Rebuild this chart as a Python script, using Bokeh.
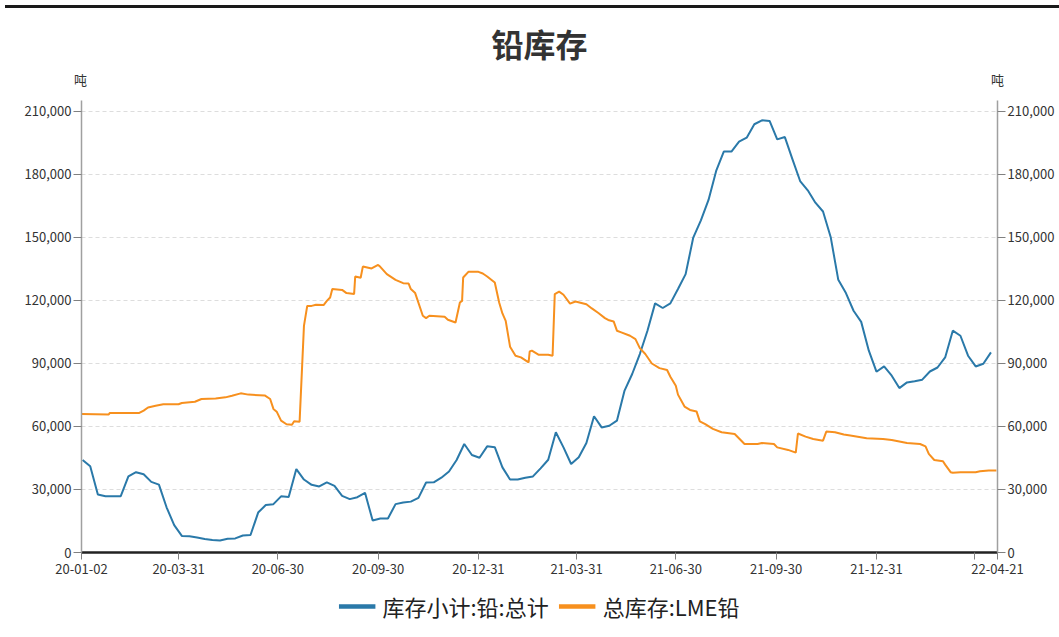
import pandas as pd
from bokeh.plotting import figure
from bokeh.models import (Range1d, LinearAxis, FixedTicker, NumeralTickFormatter, Grid,
                          Legend, LegendItem, Label, Div, ColumnDataSource)
from bokeh.layouts import column
from bokeh.embed import file_html
from bokeh.resources import INLINE

FONT = "Noto Sans CJK SC"

title_text = "铅库存"
unit_text = "吨"
series_names = ["库存小计:铅:总计", "总库存:LME铅"]
series_colors = ["#2a79a9", "#f7901e"]

x_start = "2020-01-02"
x_end = "2022-04-21"
x_tick_dates = ["2020-01-02", "2020-03-31", "2020-06-30", "2020-09-30", "2020-12-31",
                "2021-03-31", "2021-06-30", "2021-09-30", "2021-12-31", "2022-03-31", "2022-04-21"]
x_tick_labels = ["20-01-02", "20-03-31", "20-06-30", "20-09-30", "20-12-31",
                 "21-03-31", "21-06-30", "21-09-30", "21-12-31", "", "22-04-21"]
y_ticks = [0, 30000, 60000, 90000, 120000, 150000, 180000, 210000]

# weekly series (Fridays)
blue_start = "2020-01-03"
blue_values = [
    44000, 41000, 27600, 26800, 26800, 26800, 36200, 38200, 37200, 33600,
    32300, 21500, 13000, 7900, 7700, 7100, 6400, 5900, 5700, 6500,
    6700, 8100, 8300, 19000, 22600, 23000, 26700, 26400, 39700, 34700,
    32200, 31400, 33400, 31700, 26900, 25400, 26300, 28400, 15200, 16200,
    16200, 23000, 23800, 24200, 26000, 33300, 33400, 35600, 38500, 44000,
    51600, 46400, 45100, 50500, 50100, 40500, 34700, 34700, 35600, 36200,
    40000, 44100, 57200, 50000, 42100, 45300, 52100, 64800, 59500, 60300,
    62700, 77000, 84900, 94400, 105500, 118500, 116300, 118500, 125300, 132400,
    149800, 158000, 167700, 181500, 190700, 190700, 195400, 197300, 203700, 205600,
    205300, 196500, 197600, 187000, 176700, 172300, 166400, 162200, 150100, 129700,
    123400, 115000, 109700, 96000, 86000, 88500, 84100, 78200, 80900, 81500,
    82200, 86100, 88000, 92800, 105500, 103100, 93600, 88500, 89800, 95200,
]
blue_dates = pd.date_range(blue_start, periods=len(blue_values), freq="7D")

orange_dates = [
    "2020-01-02", "2020-01-27", "2020-01-28", "2020-02-24", "2020-02-28", "2020-03-03",
    "2020-03-10", "2020-03-17", "2020-03-31", "2020-04-03", "2020-04-15", "2020-04-21",
    "2020-05-04", "2020-05-13", "2020-05-19", "2020-05-27", "2020-06-03", "2020-06-18",
    "2020-06-23", "2020-06-26", "2020-06-29", "2020-07-03", "2020-07-08", "2020-07-13",
    "2020-07-15", "2020-07-20", "2020-07-24", "2020-07-27", "2020-07-31", "2020-08-04",
    "2020-08-11", "2020-08-14", "2020-08-17", "2020-08-19", "2020-08-28", "2020-09-01",
    "2020-09-08", "2020-09-09", "2020-09-14", "2020-09-16", "2020-09-24", "2020-09-30",
    "2020-10-02", "2020-10-08", "2020-10-16", "2020-10-23", "2020-10-28", "2020-10-30",
    "2020-11-03", "2020-11-10", "2020-11-13", "2020-11-16", "2020-11-30", "2020-12-03",
    "2020-12-10", "2020-12-14", "2020-12-16", "2020-12-17", "2020-12-22", "2020-12-31",
    "2021-01-04", "2021-01-08", "2021-01-15", "2021-01-19", "2021-01-22", "2021-01-25",
    "2021-01-29", "2021-02-03", "2021-02-08", "2021-02-15", "2021-02-16", "2021-02-18",
    "2021-02-24", "2021-03-05", "2021-03-09", "2021-03-11", "2021-03-15", "2021-03-19",
    "2021-03-25", "2021-03-30", "2021-04-09", "2021-04-14", "2021-04-20", "2021-04-26",
    "2021-04-29", "2021-05-04", "2021-05-07", "2021-05-11", "2021-05-19", "2021-05-24",
    "2021-05-28", "2021-06-02", "2021-06-08", "2021-06-15", "2021-06-22", "2021-06-25",
    "2021-06-30", "2021-07-02", "2021-07-08", "2021-07-13", "2021-07-19", "2021-07-22",
    "2021-07-27", "2021-08-03", "2021-08-11", "2021-08-23", "2021-09-01", "2021-09-13",
    "2021-09-17", "2021-09-28", "2021-10-01", "2021-10-11", "2021-10-18", "2021-10-20",
    "2021-10-27", "2021-11-03", "2021-11-12", "2021-11-15", "2021-11-23", "2021-12-01",
    "2021-12-07", "2021-12-22", "2022-01-06", "2022-01-14", "2022-01-28", "2022-02-09",
    "2022-02-14", "2022-02-17", "2022-02-22", "2022-03-02", "2022-03-04", "2022-03-09",
    "2022-03-11", "2022-03-18", "2022-04-01", "2022-04-05", "2022-04-13", "2022-04-20",
]
orange_values = [
    65900, 65700, 66400, 66400, 67500, 69000,
    69800, 70500, 70500, 71100, 71700, 73000,
    73300, 73800, 74600, 75700, 75100, 74700,
    73000, 68300, 67000, 62700, 61000, 60800,
    62400, 62200, 107800, 117300, 117300, 117800,
    117700, 119700, 121300, 125300, 124900, 123400,
    123000, 131300, 130700, 136000, 135100, 136800,
    135900, 132400, 129700, 128100, 127900, 125300,
    123400, 112600, 111500, 112600, 112100, 110700,
    109400, 118900, 119700, 130800, 133600, 133500,
    132700, 131300, 128400, 118900, 113700, 110200,
    97900, 93600, 92800, 90400, 95600, 96000,
    94100, 94100, 93600, 122900, 124100, 122600,
    118400, 119400, 118100, 116100, 113900, 111500,
    110600, 109900, 105500, 104700, 103100, 101500,
    97200, 94400, 89900, 87700, 86800, 83600,
    79300, 75100, 69400, 67800, 67100, 62400,
    61100, 58800, 57200, 56400, 51600, 51600,
    52100, 51600, 50000, 48800, 47500, 56600,
    55100, 54000, 53200, 57500, 57200, 56100,
    55600, 54300, 54000, 53500, 52100, 51600,
    50500, 46900, 44000, 43400, 41800, 38200,
    37900, 38200, 38200, 38600, 39000, 39000,
]


def ms(d):
    return int(pd.Timestamp(d).value // 10**6)


blue_src = ColumnDataSource(dict(x=blue_dates, y=blue_values))
orange_src = ColumnDataSource(dict(x=pd.to_datetime(orange_dates), y=orange_values))

X0, X1 = ms(x_start), ms(x_end)
W = 1059
LEFT, RIGHT = 81, 62


def blank(height, x0, x1, align=True):
    f = figure(width=W, height=height, output_backend="svg", toolbar_location=None,
               x_axis_type=None, y_axis_type=None,
               x_range=Range1d(x0, x1), y_range=Range1d(0, height),
               min_border=0, outline_line_color=None, background_fill_color="white",
               border_fill_color="white")
    f.grid.visible = False
    if not align:
        f.frame_align = False
    return f


# header strip: title and unit labels; its frame spans the whole width (page pixels)
HH = 86
head = blank(HH, 0, W, align=False)
frame_mid = LEFT + (W - LEFT - RIGHT) / 2
head.add_layout(Label(x=frame_mid, y=HH - 29, text=title_text, text_align="center",
                      text_baseline="middle", text_font=FONT, text_font_size="32px",
                      text_font_style="bold", text_color="#333333"))
for xv in [LEFT - 1, W - RIGHT]:
    head.add_layout(Label(x=xv, y=HH - 66, text=unit_text, text_align="center",
                          text_baseline="middle", text_font=FONT, text_font_size="13px",
                          text_color="#333333"))

p = figure(width=W, height=487, output_backend="svg", toolbar_location=None,
           x_axis_type=None, y_axis_type=None,
           x_range=Range1d(X0, X1), y_range=Range1d(0, 215000),
           min_border_left=LEFT, min_border_right=RIGHT, min_border_top=1, min_border_bottom=34,
           outline_line_color=None, background_fill_color="white", border_fill_color="white")

yticker = FixedTicker(ticks=y_ticks)
p.add_layout(Grid(dimension=1, ticker=yticker, grid_line_color="#dddddd",
                  grid_line_dash="4 3", grid_line_width=1))

r1 = p.line("x", "y", source=blue_src, line_color=series_colors[0], line_width=2)
r2 = p.line("x", "y", source=orange_src, line_color=series_colors[1], line_width=2)


def style_y(ax):
    ax.ticker = yticker
    ax.formatter = NumeralTickFormatter(format="0,0")
    ax.axis_line_color = "#a0a0a0"
    ax.axis_line_width = 1.5
    ax.major_tick_line_color = "#808080"
    ax.major_tick_in = 0
    ax.major_tick_out = 8
    ax.minor_tick_line_color = None
    ax.major_label_standoff = 2
    ax.major_label_text_font = FONT
    ax.major_label_text_font_size = "13px"
    ax.major_label_text_color = "#333333"


yl = LinearAxis()
style_y(yl)
p.add_layout(yl, "left")
yr = LinearAxis()
style_y(yr)
p.add_layout(yr, "right")

xt = [ms(d) for d in x_tick_dates]
xa = LinearAxis(ticker=FixedTicker(ticks=xt),
                major_label_overrides={t: lab for t, lab in zip(xt, x_tick_labels)})
xa.axis_line_color = "#222222"
xa.axis_line_width = 2.5
xa.major_tick_line_color = "#808080"
xa.major_tick_in = 0
xa.major_tick_out = 7
xa.minor_tick_line_color = None
xa.major_label_standoff = 4
xa.major_label_text_font = FONT
xa.major_label_text_font_size = "13px"
xa.major_label_text_color = "#333333"
p.add_layout(xa, "below")

# legend strip below the chart; swatch renderers sit outside the strip's visible range
lf = blank(40, LEFT, W - RIGHT)
k1 = lf.line(x=[-50, -40], y=[-50, -50], line_color=series_colors[0], line_width=4.5)
k2 = lf.line(x=[-50, -40], y=[-50, -50], line_color=series_colors[1], line_width=4.5)
legend = Legend(items=[LegendItem(label=series_names[0], renderers=[k1]),
                       LegendItem(label=series_names[1], renderers=[k2])],
                orientation="horizontal", location="center",
                label_text_font=FONT, label_text_font_size="22px", label_text_color="#222222",
                glyph_width=37, glyph_height=24, label_height=24, label_standoff=7, spacing=10,
                padding=2, margin=0, border_line_color=None, background_fill_alpha=0)
lf.add_layout(legend, "center")

top_rule = Div(width=W, height=3, styles={"background-color": "#1a1a1a"})
layout = column(top_rule, head, p, lf, spacing=0)

open("out.html", "w").write(file_html(layout, INLINE))
